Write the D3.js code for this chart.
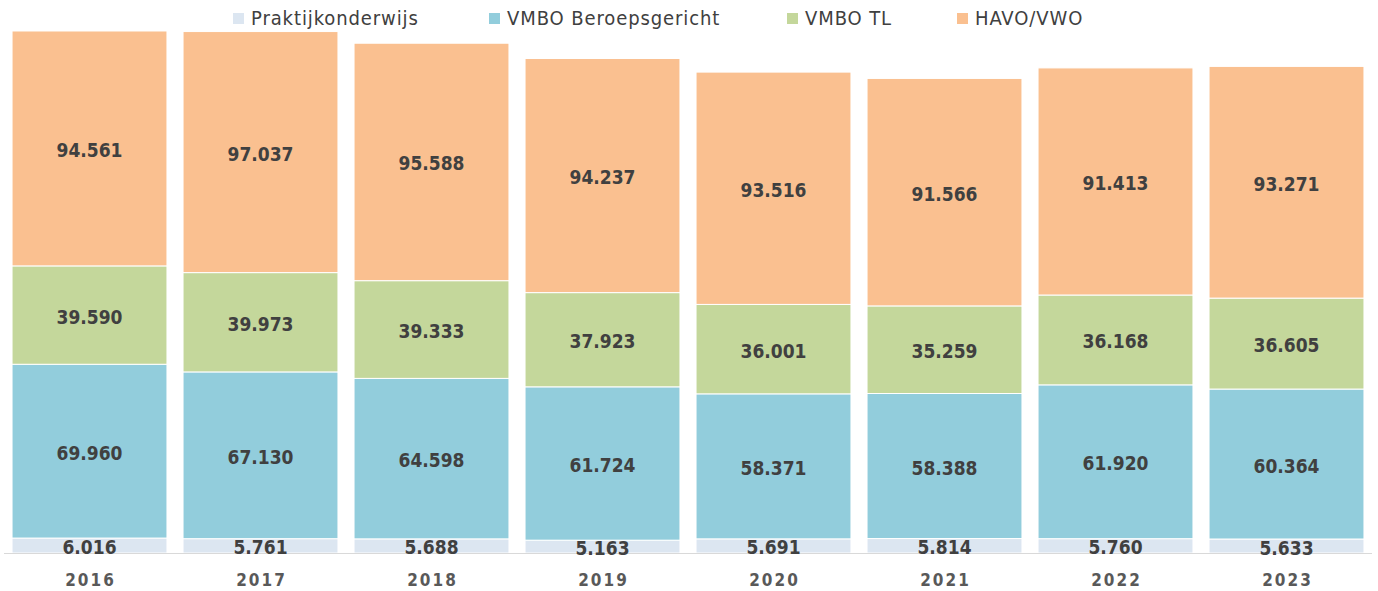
<!DOCTYPE html>
<html>
<head>
<meta charset="utf-8">
<script src="https://cdn.jsdelivr.net/npm/d3@7"></script>
<style>
  body { margin: 0; background: #fff; }
  svg { font-family: "DejaVu Sans Condensed", "DejaVu Sans", sans-serif; }
  .val { font-size: 19px; font-weight: bold; fill: #404040; text-anchor: middle; }
  .year { font-size: 17px; font-weight: bold; fill: #595959; letter-spacing: 2px; text-anchor: middle; }
  .leg { font-size: 20px; fill: #404040; letter-spacing: 0.9px; }
</style>
</head>
<body>
<svg id="chart" width="1378" height="591"></svg>
<script>
const years = ["2016", "2017", "2018", "2019", "2020", "2021", "2022", "2023"];
const categories = ["Praktijkonderwijs", "VMBO Beroepsgericht", "VMBO TL", "HAVO/VWO"];
const praktijk = [6016, 5761, 5688, 5163, 5691, 5814, 5760, 5633];
const vmboB = [69960, 67130, 64598, 61724, 58371, 58388, 61920, 60364];
const vmboTL = [39590, 39973, 39333, 37923, 36001, 35259, 36168, 36605];
const havoVwo = [94561, 97037, 95588, 94237, 93516, 91566, 91413, 93271];
const colors = ["#dce6f1", "#92cddc", "#c4d79b", "#fac090"];

const svg = d3.select("#chart");
const baseY = 553;

const rows = years.map((yr, i) => ({
  year: yr,
  "Praktijkonderwijs": praktijk[i],
  "VMBO Beroepsgericht": vmboB[i],
  "VMBO TL": vmboTL[i],
  "HAVO/VWO": havoVwo[i]
}));

const stacked = d3.stack().keys(categories)(rows);

const x = d3.scaleBand()
  .domain(years)
  .range([4, 1372])
  .paddingInner(0.094)
  .paddingOuter(0.047);

const y = d3.scaleLinear()
  .domain([0, 222600])
  .range([baseY, 0]);

const nl = d3.formatLocale({decimal: ",", thousands: ".", grouping: [3], currency: ["€", ""]});
const fmt = nl.format(",d");

const layers = svg.append("g").selectAll("g")
  .data(stacked)
  .join("g")
  .attr("fill", (d, i) => colors[i]);

layers.selectAll("rect")
  .data(d => d)
  .join("rect")
  .attr("x", d => x(d.data.year))
  .attr("width", x.bandwidth())
  .attr("y", d => y(d[1]))
  .attr("height", d => y(d[0]) - y(d[1]))
  .attr("stroke", "#fff")
  .attr("stroke-width", 1);

// axis line
svg.append("line")
  .attr("x1", 4).attr("x2", 1372)
  .attr("y1", baseY + 0.5).attr("y2", baseY + 0.5)
  .attr("stroke", "#d9d9d9");

// value labels
stacked.forEach(layer => {
  svg.append("g").selectAll("text")
    .data(layer)
    .join("text")
    .attr("class", "val")
    .attr("x", d => x(d.data.year) + x.bandwidth() / 2)
    .attr("y", d => (y(d[0]) + y(d[1])) / 2)
    .attr("dy", "0.45em")
    .text(d => fmt(d[1] - d[0]));
});

// year labels
svg.append("g").selectAll("text")
  .data(years)
  .join("text")
  .attr("class", "year")
  .attr("x", d => x(d) + x.bandwidth() / 2 + 1)
  .attr("y", 586)
  .text(d => d);

// legend
const legX = [233, 489, 787, 957];
const leg = svg.append("g").selectAll("g")
  .data(categories)
  .join("g")
  .attr("transform", (d, i) => `translate(${legX[i]},0)`);

leg.append("rect")
  .attr("x", 0).attr("y", 13)
  .attr("width", 11).attr("height", 11)
  .attr("fill", (d, i) => colors[i]);

leg.append("text")
  .attr("class", "leg")
  .attr("x", 18)
  .attr("y", 25)
  .text(d => d);
</script>
</body>
</html>
